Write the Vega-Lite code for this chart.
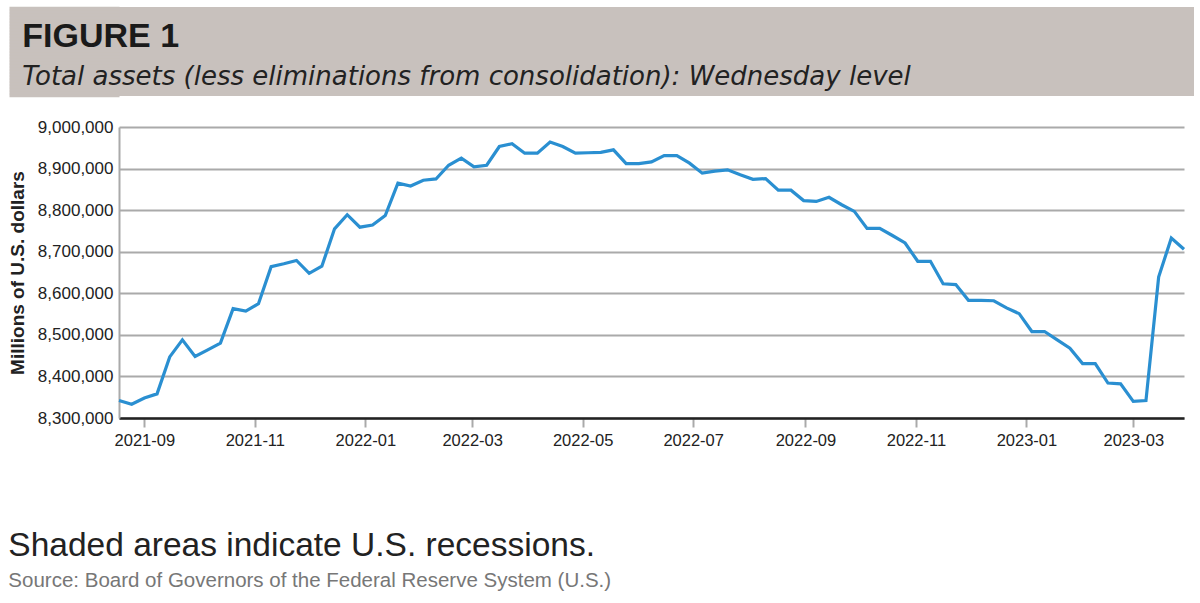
{
  "$schema": "https://vega.github.io/schema/vega-lite/v6.json",
  "background": "white",
  "padding": {"left": 7, "top": 6, "right": 5, "bottom": 5},
  "spacing": 19,
  "config": {"view": {"stroke": null}},
  "vconcat": [
    {
      "width": 1075,
      "height": 89,
      "view": {"fill": "#c8c1bd", "stroke": null},
      "data": {"values": [{"k": 0}]},
      "mark": {"type": "point", "opacity": 0},
      "encoding": {
        "y": {
          "field": "k",
          "type": "quantitative",
          "scale": {"domain": [0, 30], "nice": false, "zero": false},
          "axis": {
            "title": null,
            "labels": false,
            "domain": false,
            "grid": false,
            "ticks": true,
            "values": [0.5, 1.5, 2.5, 3.5, 4.5, 5.5, 6.5, 7.5, 8.5, 9.5, 10.5, 11.5, 12.5, 13.5, 14.5, 15.5, 16.5, 17.5, 18.5, 19.5, 20.5, 21.5, 22.5, 23.5, 24.5, 25.5, 26.5, 27.5, 28.5, 29.5],
            "tickSize": 110,
            "tickWidth": 3.3,
            "tickCap": "butt",
            "tickColor": "#c8c1bd",
            "zindex": 0
          }
        }
      },
      "title": {
        "text": "FIGURE 1",
        "subtitle": "Total assets (less eliminations from consolidation): Wednesday level",
        "orient": "top",
        "anchor": "start",
        "frame": "bounds",
        "offset": -84,
        "dx": 15,
        "zindex": 1,
        "font": "Liberation Sans, Arial, sans-serif",
        "fontSize": 34,
        "fontWeight": "bold",
        "color": "#1a1a1a",
        "subtitleFont": "DejaVu Sans",
        "subtitleFontSize": 26,
        "subtitleFontStyle": "italic",
        "subtitleColor": "#222222",
        "subtitlePadding": 10
      }
    },
    {
      "width": 1065,
      "height": 291,
      "data": {"values": [
        {"date": "2021-08-18", "value": 8342000},
        {"date": "2021-08-25", "value": 8333000},
        {"date": "2021-09-01", "value": 8348000},
        {"date": "2021-09-08", "value": 8358000},
        {"date": "2021-09-15", "value": 8447000},
        {"date": "2021-09-22", "value": 8488000},
        {"date": "2021-09-29", "value": 8448000},
        {"date": "2021-10-06", "value": 8464000},
        {"date": "2021-10-13", "value": 8480000},
        {"date": "2021-10-20", "value": 8563000},
        {"date": "2021-10-27", "value": 8557000},
        {"date": "2021-11-03", "value": 8575000},
        {"date": "2021-11-10", "value": 8664000},
        {"date": "2021-11-17", "value": 8671000},
        {"date": "2021-11-24", "value": 8679000},
        {"date": "2021-12-01", "value": 8648000},
        {"date": "2021-12-08", "value": 8665000},
        {"date": "2021-12-15", "value": 8755000},
        {"date": "2021-12-22", "value": 8789000},
        {"date": "2021-12-29", "value": 8759000},
        {"date": "2022-01-05", "value": 8764000},
        {"date": "2022-01-12", "value": 8787000},
        {"date": "2022-01-19", "value": 8865000},
        {"date": "2022-01-26", "value": 8858000},
        {"date": "2022-02-02", "value": 8872000},
        {"date": "2022-02-09", "value": 8875000},
        {"date": "2022-02-16", "value": 8908000},
        {"date": "2022-02-23", "value": 8925000},
        {"date": "2022-03-02", "value": 8904000},
        {"date": "2022-03-09", "value": 8908000},
        {"date": "2022-03-16", "value": 8953000},
        {"date": "2022-03-23", "value": 8960000},
        {"date": "2022-03-30", "value": 8937000},
        {"date": "2022-04-06", "value": 8937000},
        {"date": "2022-04-13", "value": 8964000},
        {"date": "2022-04-20", "value": 8953000},
        {"date": "2022-04-27", "value": 8937000},
        {"date": "2022-05-04", "value": 8938000},
        {"date": "2022-05-11", "value": 8939000},
        {"date": "2022-05-18", "value": 8945000},
        {"date": "2022-05-25", "value": 8912000},
        {"date": "2022-06-01", "value": 8912000},
        {"date": "2022-06-08", "value": 8916000},
        {"date": "2022-06-15", "value": 8931000},
        {"date": "2022-06-22", "value": 8931000},
        {"date": "2022-06-29", "value": 8913000},
        {"date": "2022-07-06", "value": 8889000},
        {"date": "2022-07-13", "value": 8894000},
        {"date": "2022-07-20", "value": 8897000},
        {"date": "2022-07-27", "value": 8885000},
        {"date": "2022-08-03", "value": 8874000},
        {"date": "2022-08-10", "value": 8876000},
        {"date": "2022-08-17", "value": 8848000},
        {"date": "2022-08-24", "value": 8848000},
        {"date": "2022-08-31", "value": 8823000},
        {"date": "2022-09-07", "value": 8821000},
        {"date": "2022-09-14", "value": 8831000},
        {"date": "2022-09-21", "value": 8813000},
        {"date": "2022-09-28", "value": 8797000},
        {"date": "2022-10-05", "value": 8756000},
        {"date": "2022-10-12", "value": 8756000},
        {"date": "2022-10-19", "value": 8739000},
        {"date": "2022-10-26", "value": 8721000},
        {"date": "2022-11-02", "value": 8677000},
        {"date": "2022-11-09", "value": 8677000},
        {"date": "2022-11-16", "value": 8623000},
        {"date": "2022-11-23", "value": 8621000},
        {"date": "2022-11-30", "value": 8583000},
        {"date": "2022-12-07", "value": 8583000},
        {"date": "2022-12-14", "value": 8582000},
        {"date": "2022-12-21", "value": 8565000},
        {"date": "2022-12-28", "value": 8551000},
        {"date": "2023-01-04", "value": 8508000},
        {"date": "2023-01-11", "value": 8508000},
        {"date": "2023-01-18", "value": 8488000},
        {"date": "2023-01-25", "value": 8468000},
        {"date": "2023-02-01", "value": 8431000},
        {"date": "2023-02-08", "value": 8431000},
        {"date": "2023-02-15", "value": 8384000},
        {"date": "2023-02-22", "value": 8382000},
        {"date": "2023-03-01", "value": 8340000},
        {"date": "2023-03-08", "value": 8342000},
        {"date": "2023-03-15", "value": 8639000},
        {"date": "2023-03-22", "value": 8733000},
        {"date": "2023-03-29", "value": 8706000}
      ]},
      "mark": {"type": "line", "color": "#2a8fd1", "strokeWidth": 3.2, "strokeJoin": "miter"},
      "encoding": {
        "x": {
          "field": "date",
          "type": "temporal",
          "scale": {
            "type": "utc",
            "domain": [
              {"year": 2021, "month": 8, "date": 18, "utc": true},
              {"year": 2023, "month": 3, "date": 29, "utc": true}
            ]
          },
          "axis": {
            "title": null,
            "format": "%Y-%m",
            "tickCount": {"interval": "month", "step": 2},
            "grid": false,
            "domain": true,
            "domainColor": "#222222",
            "domainWidth": 2.5,
            "ticks": true,
            "tickColor": "#aaaaaa",
            "tickWidth": 2,
            "tickSize": 9,
            "labelPadding": 5,
            "labelFont": "Liberation Sans, Arial, sans-serif",
            "labelFontSize": 16.5,
            "labelColor": "#222222",
            "labelFlush": false,
            "labelOverlap": false
          }
        },
        "y": {
          "field": "value",
          "type": "quantitative",
          "scale": {"domain": [8300000, 9000000], "nice": false, "zero": false},
          "axis": {
            "title": "Millions of U.S. dollars",
            "titleFont": "Liberation Sans, Arial, sans-serif",
            "titleFontSize": 19,
            "titleFontWeight": "bold",
            "titleColor": "#222222",
            "titlePadding": 10,
            "values": [8300000, 8400000, 8500000, 8600000, 8700000, 8800000, 8900000, 9000000],
            "format": ",d",
            "grid": true,
            "gridColor": "#aaaaaa",
            "gridWidth": 2,
            "domain": true,
            "domainColor": "#aaaaaa",
            "domainWidth": 2,
            "ticks": false,
            "labelPadding": 6,
            "labelFont": "Liberation Sans, Arial, sans-serif",
            "labelFontSize": 17,
            "labelColor": "#222222"
          }
        }
      },
      "title": {
        "text": "Shaded areas indicate U.S. recessions.",
        "subtitle": "Source: Board of Governors of the Federal Reserve System (U.S.)",
        "orient": "bottom",
        "anchor": "start",
        "frame": "bounds",
        "offset": 81,
        "font": "Liberation Sans, Arial, sans-serif",
        "fontSize": 33.5,
        "fontWeight": "normal",
        "color": "#222222",
        "subtitleFont": "Liberation Sans, Arial, sans-serif",
        "subtitleFontSize": 20.5,
        "subtitleColor": "#777777",
        "subtitlePadding": 8
      }
    }
  ]
}
